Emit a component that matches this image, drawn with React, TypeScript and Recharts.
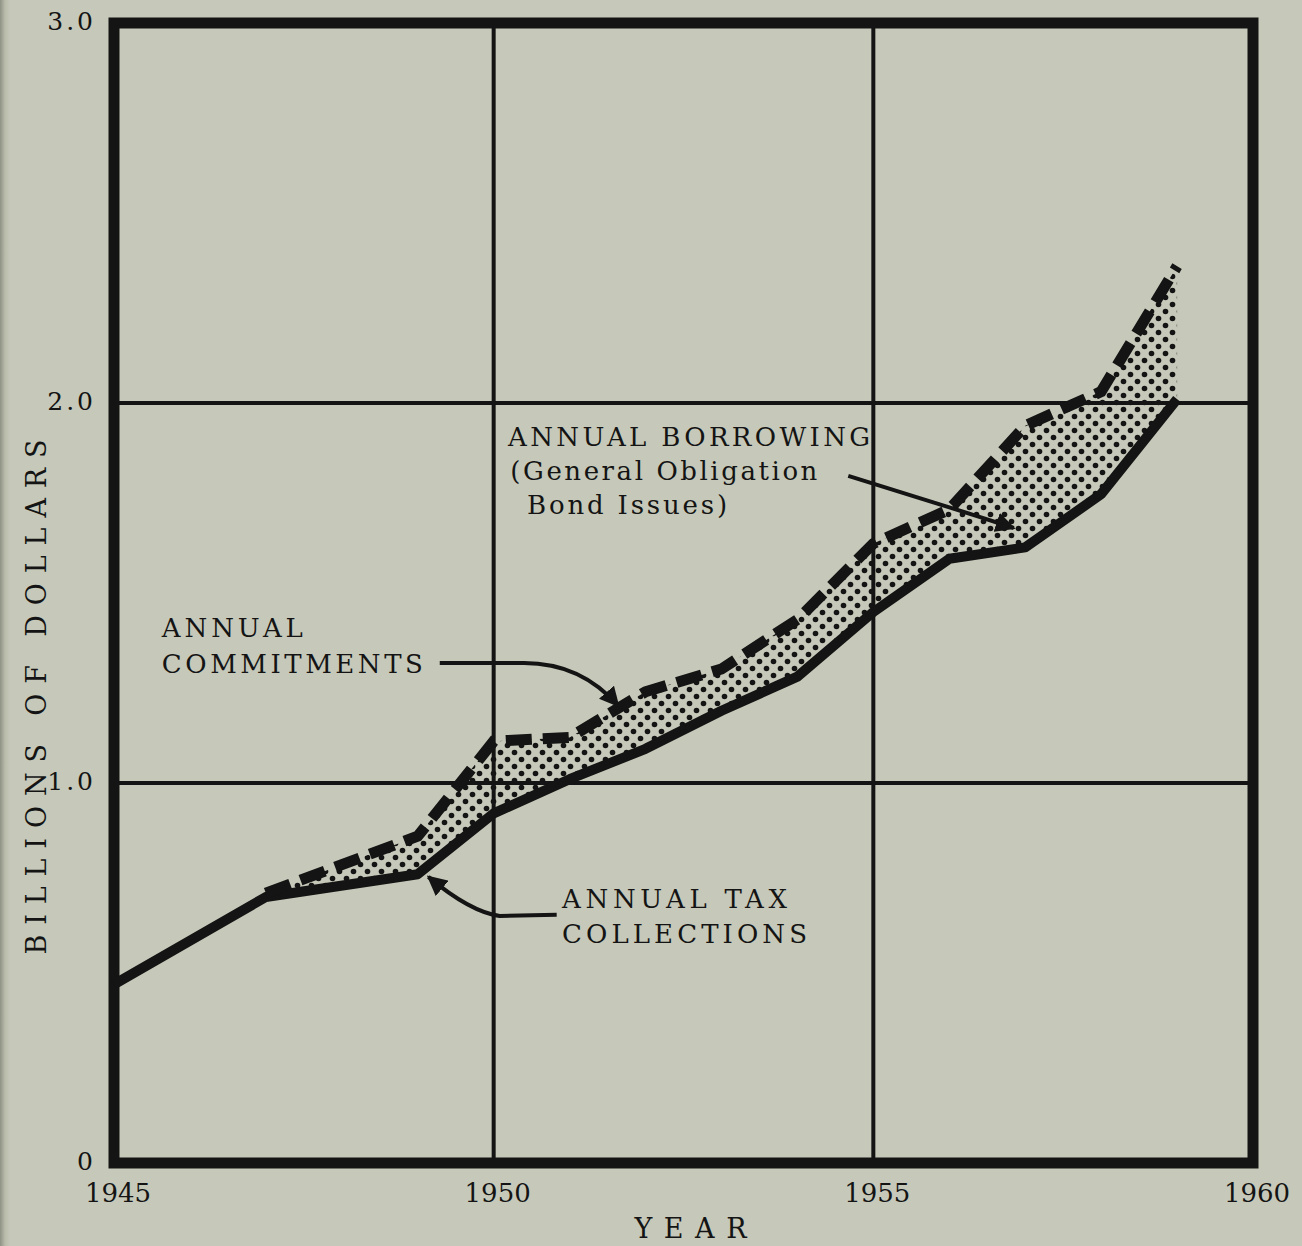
import React from "react";
import {
  Area,
  CartesianGrid,
  ComposedChart,
  Customized,
  Line,
  ReferenceArea,
  XAxis,
  YAxis,
} from "recharts";

// years with a plotted vertex (the hand-drawn lines run straight between them)
const years = [1945, 1947, 1949, 1950, 1951, 1952, 1953, 1954, 1955, 1956, 1957, 1958, 1959];
// billions of dollars
const taxCollections = [0.47, 0.7, 0.76, 0.92, 1.01, 1.09, 1.19, 1.28, 1.45, 1.59, 1.62, 1.76, 2.01];
const commitments = [null, 0.71, 0.86, 1.11, 1.12, 1.24, 1.3, 1.43, 1.63, 1.72, 1.94, 2.03, 2.36];

const xTicks = [1945, 1950, 1955, 1960];
const yTicks = [0, 1, 2, 3];

const W = 1302;
const H = 1246;
const MARGIN = { top: 23, right: 49, bottom: 0, left: 0 };
const Y_AXIS_W = 114;
const X_AXIS_H = 83;
const PLOT = {
  left: MARGIN.left + Y_AXIS_W,
  top: MARGIN.top,
  width: W - MARGIN.left - MARGIN.right - Y_AXIS_W,
  height: H - MARGIN.top - MARGIN.bottom - X_AXIS_H,
};

const BG = "#c6c9b9";
const INK = "#141414";
const SERIF = "'DejaVu Serif', serif";

const chartData = years.map((year, i) => ({
  year,
  tax: taxCollections[i],
  commit: commitments[i],
  band: commitments[i] == null ? null : [taxCollections[i], commitments[i]],
}));

// annotation text, anchored in data units (year, billions)
const notes = [
  { text: "ANNUAL BORROWING", at: [1950.19, 1.887], len: 362 },
  { text: "(General Obligation", at: [1950.22, 1.797], len: 307 },
  { text: "Bond Issues)", at: [1950.44, 1.708], len: 200 },
  { text: "ANNUAL", at: [1945.63, 1.384], len: 141 },
  { text: "COMMITMENTS", at: [1945.63, 1.289], len: 261 },
  { text: "ANNUAL TAX", at: [1950.9, 0.671], len: 225 },
  { text: "COLLECTIONS", at: [1950.9, 0.579], len: 245 },
];

// leader arrows: start, bend start, curve control, tip
const arrows = [
  [[1949.29, 1.316], [1950.4, 1.316], [1951.15, 1.316], [1951.64, 1.203]],
  [[1950.83, 0.653], [1950.08, 0.65], [1949.69, 0.661], [1949.14, 0.753]],
  [[1954.67, 1.808], [1955.8, 1.738], [1956.3, 1.707], [1956.85, 1.671]],
];

const px = (year: number) => PLOT.left + ((year - 1945) / 15) * PLOT.width;
const py = (v: number) => PLOT.top + ((3 - v) / 3) * PLOT.height;

function Annotations() {
  return (
    <g>
      <defs>
        <marker
          id="tip"
          viewBox="0 0 10 10"
          refX="9"
          refY="5"
          markerWidth="5"
          markerHeight="5"
          orient="auto"
          markerUnits="strokeWidth"
        >
          <path d="M0,0 L10,5 L0,10 z" fill={INK} />
        </marker>
      </defs>
      {arrows.map((a, i) => (
        <path
          key={i}
          d={`M${px(a[0][0])},${py(a[0][1])} L${px(a[1][0])},${py(a[1][1])} Q${px(a[2][0])},${py(
            a[2][1]
          )} ${px(a[3][0])},${py(a[3][1])}`}
          fill="none"
          stroke={INK}
          strokeWidth={4}
          markerEnd="url(#tip)"
        />
      ))}
      {notes.map((n) => (
        <text
          key={n.text}
          x={px(n.at[0])}
          y={py(n.at[1])}
          textLength={n.len}
          lengthAdjust="spacing"
          fontFamily={SERIF}
          fontSize={26}
          fill={INK}
        >
          {n.text}
        </text>
      ))}
    </g>
  );
}

function XTick({ x, y, payload }: any) {
  return (
    <text x={x + 4} y={y + 37} textAnchor="middle" fontFamily={SERIF} fontSize={26} fill={INK}>
      {payload.value}
    </text>
  );
}

function YTick({ x, y, payload }: any) {
  const v = payload.value;
  return (
    <text
      x={x - 16}
      y={y + 7}
      textAnchor="end"
      fontFamily={SERIF}
      fontSize={25}
      letterSpacing={3}
      fill={INK}
    >
      {v === 0 ? "0" : v.toFixed(1)}
    </text>
  );
}

function YLabel({ viewBox }: any) {
  const cx = viewBox.x + 36;
  const cy = viewBox.y + viewBox.height / 2 + 104;
  return (
    <text
      x={cx}
      y={cy}
      transform={`rotate(-90, ${cx}, ${cy})`}
      textAnchor="middle"
      dominantBaseline="central"
      textLength={515}
      lengthAdjust="spacing"
      fontFamily={SERIF}
      fontSize={27}
      fill={INK}
    >
      BILLIONS OF DOLLARS
    </text>
  );
}

function XLabel({ viewBox }: any) {
  return (
    <text
      x={viewBox.x + viewBox.width / 2 + 7}
      y={viewBox.y + 75}
      textAnchor="middle"
      textLength={112}
      lengthAdjust="spacing"
      fontFamily={SERIF}
      fontSize={27}
      fill={INK}
    >
      YEAR
    </text>
  );
}

export default function App() {
  return (
    <div
      style={{
        position: "absolute",
        left: 0,
        top: 0,
        width: W,
        height: H,
        background: `linear-gradient(to right, #8e9284 0px, #b9bcab 5px, ${BG} 10px, ${BG} 100%)`,
      }}
    >
      <ComposedChart width={W} height={H} data={chartData} margin={MARGIN}>
        <defs>
          <pattern id="stipple" width="14" height="14" patternUnits="userSpaceOnUse">
            <circle cx="3.5" cy="3.5" r="2.8" fill={INK} />
            <circle cx="10.5" cy="10.5" r="2.8" fill={INK} />
          </pattern>
        </defs>
        <CartesianGrid stroke={INK} strokeWidth={4} fill="none" />
        <XAxis
          dataKey="year"
          type="number"
          domain={[1945, 1960]}
          ticks={xTicks}
          height={X_AXIS_H}
          axisLine={false}
          tickLine={false}
          tickSize={0}
          tick={<XTick />}
          label={<XLabel />}
        />
        <YAxis
          type="number"
          domain={[0, 3]}
          ticks={yTicks}
          width={Y_AXIS_W}
          axisLine={false}
          tickLine={false}
          tickSize={0}
          tick={<YTick />}
          label={<YLabel />}
        />
        <Area
          dataKey="band"
          type="linear"
          stroke="none"
          fill="url(#stipple)"
          fillOpacity={1}
          isAnimationActive={false}
          connectNulls={false}
        />
        <Line
          dataKey="tax"
          type="linear"
          stroke={INK}
          strokeWidth={10}
          dot={false}
          strokeLinejoin="round"
          isAnimationActive={false}
        />
        <Line
          dataKey="commit"
          type="linear"
          stroke={INK}
          strokeWidth={11}
          strokeDasharray="26 11"
          dot={false}
          strokeLinejoin="miter"
          isAnimationActive={false}
        />
        <ReferenceArea
          x1={1945}
          x2={1960}
          y1={0}
          y2={3}
          fill="none"
          stroke={INK}
          strokeWidth={11}
        />
        <Customized component={<Annotations />} />
      </ComposedChart>
    </div>
  );
}
